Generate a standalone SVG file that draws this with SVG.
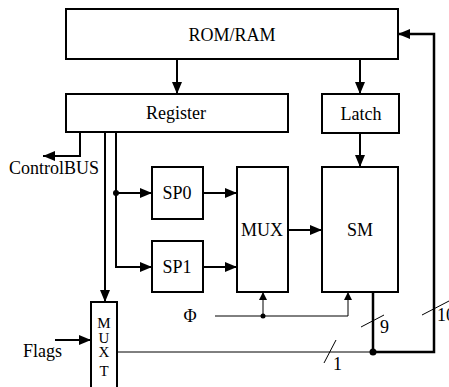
<svg xmlns="http://www.w3.org/2000/svg" width="449" height="387" viewBox="0 0 449 387">
<style>
.box{fill:#fff;stroke:#000;stroke-width:2}
.t{font-family:'Liberation Serif','DejaVu Serif',serif;font-size:18px;fill:#000}
.c{text-anchor:middle}
.m{font-size:15px}
.w{fill:none;stroke:#000;stroke-width:2}
.thin{fill:none;stroke:#000;stroke-width:1}
.thick{fill:none;stroke:#000;stroke-width:2.5}
</style>
<defs>
<marker id="ah" markerWidth="12" markerHeight="10" refX="12" refY="5" orient="auto" markerUnits="userSpaceOnUse">
<path d="M0,0 L12,5 L0,10 Z" fill="#000"/>
</marker>
<marker id="as" markerWidth="8" markerHeight="8" refX="8" refY="4" orient="auto" markerUnits="userSpaceOnUse">
<path d="M0,0 L8,4 L0,8 Z" fill="#000"/>
</marker>
</defs>
<rect width="449" height="387" fill="#fff"/>
<g id="connectors">
<line class="w" x1="177" y1="59" x2="177" y2="94" marker-end="url(#ah)"/>
<line class="w" x1="360" y1="59" x2="360" y2="94" marker-end="url(#ah)"/>
<line class="w" x1="360" y1="133" x2="360" y2="167" marker-end="url(#ah)"/>
<polyline class="w" points="80,132 80,156 43,156" marker-end="url(#ah)"/>
<line class="w" x1="105" y1="132" x2="105" y2="302" marker-end="url(#ah)"/>
<polyline class="w" points="116,132 116,267 152,267" marker-end="url(#ah)"/>
<line class="w" x1="116" y1="193" x2="152" y2="193" marker-end="url(#ah)"/>
<circle cx="116" cy="193" r="3" fill="#000"/>
<line class="w" x1="203" y1="193" x2="237" y2="193" marker-end="url(#ah)"/>
<line class="w" x1="203" y1="267" x2="237" y2="267" marker-end="url(#ah)"/>
<line class="w" x1="288" y1="230" x2="322" y2="230" marker-end="url(#ah)"/>
<polyline class="thin" points="215,316 348,316"/>
<line class="thin" x1="263" y1="316" x2="263" y2="292" marker-end="url(#as)"/>
<line class="thin" x1="348" y1="316" x2="348" y2="292" marker-end="url(#as)"/>
<circle cx="263" cy="316" r="2.5" fill="#000"/>
<line class="w" x1="55" y1="340" x2="91" y2="340" marker-end="url(#ah)"/>
<line class="thin" x1="117" y1="352" x2="373" y2="352"/>
<line class="thick" x1="373" y1="292" x2="373" y2="352"/>
<polyline class="thick" points="373,352 434,352 434,34 398,34" marker-end="url(#ah)"/>
<circle cx="373" cy="352" r="3.5" fill="#000"/>
<line class="thin" x1="324" y1="363" x2="336" y2="340"/>
<line class="thin" x1="361" y1="327" x2="384" y2="315"/>
<line class="thin" x1="422" y1="315" x2="449" y2="301"/>
<text class="t" x="333" y="370">1</text>
<text class="t" x="380" y="333">9</text>
<text class="t" x="437" y="321">10</text>
<text class="t c" x="190" y="322">Φ</text>
<text class="t" x="23" y="357">Flags</text>
<text class="t" x="9" y="174">ControlBUS</text>
</g>
<g id="romram"><rect class="box" x="66" y="9" width="332" height="50"/><text class="t c" x="232" y="41">ROM/RAM</text></g>
<g id="register"><rect class="box" x="66" y="94" width="222" height="38"/><text class="t c" x="176" y="119">Register</text></g>
<g id="latch"><rect class="box" x="322" y="94" width="77" height="39"/><text class="t c" x="361" y="120">Latch</text></g>
<g id="sp0"><rect class="box" x="152" y="167" width="51" height="52"/><text class="t c" x="177" y="199">SP0</text></g>
<g id="sp1"><rect class="box" x="152" y="241" width="51" height="51"/><text class="t c" x="177" y="273">SP1</text></g>
<g id="mux"><rect class="box" x="237" y="167" width="51" height="125"/><text class="t c" x="262" y="236">MUX</text></g>
<g id="sm"><rect class="box" x="322" y="167" width="76" height="125"/><text class="t c" x="360" y="236">SM</text></g>
<g id="muxt"><rect class="box" x="91" y="302" width="26" height="95"/>
<text class="t c m" x="104" y="328"><tspan x="104" y="328">M</tspan><tspan x="104" y="343">U</tspan><tspan x="104" y="357">X</tspan><tspan x="104" y="376">T</tspan></text></g>
</svg>
